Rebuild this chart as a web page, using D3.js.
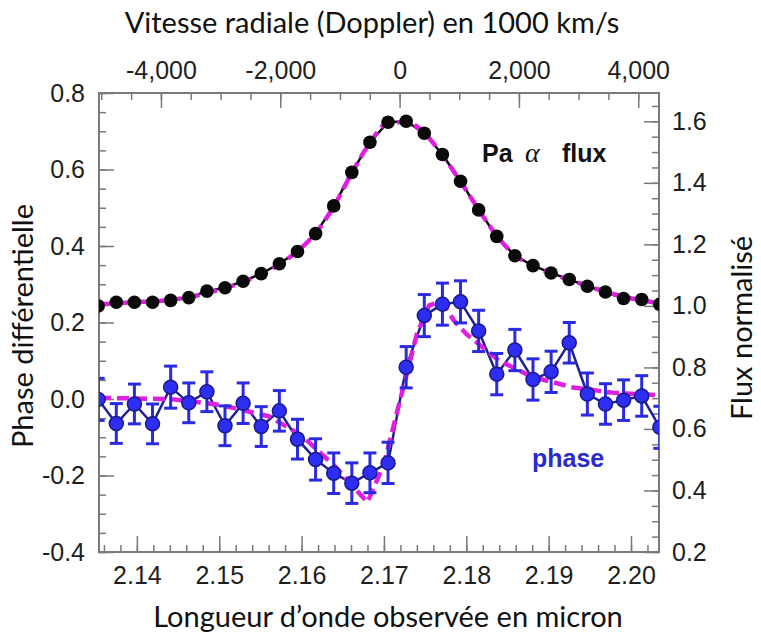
<!DOCTYPE html>
<html>
<head>
<meta charset="utf-8">
<script src="https://cdn.jsdelivr.net/npm/d3@7"></script>
<style>
  body { margin: 0; background: #fff; }
  svg { display: block; }
  .axis path { display: none; }
  .axis line { stroke: #7a7a7a; stroke-width: 1.5; }
  .axis text { font-family: "Liberation Sans", Arial, sans-serif; font-size: 25px; fill: #1e1e1e; }
  .lbl { font-family: Lato, "Open Sans", sans-serif; font-size: 29px; fill: #111; }
</style>
</head>
<body>
<svg id="chart" width="761" height="641"></svg>
<script>
// wavelength of each spectral channel (micron)
var lambda = [2.1353, 2.1375, 2.1397, 2.1419, 2.1441, 2.1463, 2.1485, 2.1507, 2.1529, 2.1551,
              2.1573, 2.1595, 2.1617, 2.1639, 2.1661, 2.1683, 2.1705, 2.1727, 2.1749, 2.1771,
              2.1793, 2.1815, 2.1837, 2.1859, 2.1881, 2.1903, 2.1925, 2.1947, 2.1969, 2.1991,
              2.2013, 2.2035];

// Pa alpha normalised flux (right axis)
var flux = [1.000, 1.012, 1.012, 1.012, 1.018, 1.027, 1.048, 1.059, 1.080, 1.105,
            1.137, 1.177, 1.235, 1.325, 1.434, 1.532, 1.597, 1.600, 1.561, 1.492,
            1.405, 1.312, 1.226, 1.163, 1.131, 1.107, 1.086, 1.064, 1.045, 1.024,
            1.021, 1.005];
var fluxErr = [0.006, 0.006, 0.006, 0.006, 0.006, 0.006, 0.006, 0.006, 0.006, 0.006,
               0.006, 0.007, 0.008, 0.010, 0.012, 0.013, 0.012, 0.012, 0.011, 0.010,
               0.009, 0.008, 0.007, 0.006, 0.006, 0.006, 0.006, 0.006, 0.006, 0.006,
               0.006, 0.006];
var fluxFit = [1.005, 1.008, 1.012, 1.015, 1.020, 1.028, 1.042, 1.058, 1.078, 1.103,
               1.135, 1.178, 1.236, 1.323, 1.432, 1.530, 1.595, 1.598, 1.562, 1.490,
               1.404, 1.313, 1.228, 1.165, 1.130, 1.106, 1.085, 1.065, 1.046, 1.030,
               1.018, 1.008];

// differential phase (left axis)
var phase = [-0.001, -0.064, -0.013, -0.065, 0.031, -0.010, 0.019, -0.070, -0.011, -0.072,
             -0.031, -0.105, -0.158, -0.194, -0.220, -0.193, -0.167, 0.083, 0.218, 0.248,
             0.254, 0.178, 0.065, 0.128, 0.051, 0.071, 0.147, 0.013, -0.013, -0.003,
             0.008, -0.074];
var phaseErr = [0.055, 0.052, 0.052, 0.052, 0.055, 0.052, 0.052, 0.052, 0.053, 0.052,
                0.053, 0.052, 0.054, 0.053, 0.053, 0.052, 0.054, 0.054, 0.055, 0.055,
                0.055, 0.054, 0.054, 0.054, 0.054, 0.054, 0.053, 0.055, 0.053, 0.053,
                0.053, 0.055];

// model curve for the phase
var fitLambda = [2.1354, 2.1440, 2.1500, 2.1560, 2.1600, 2.1640, 2.1680, 2.1700, 2.1720, 2.1740,
                 2.1755, 2.1770, 2.1785, 2.1800, 2.1840, 2.1880, 2.1930, 2.1980, 2.2035];
var phaseFit = [0.003, 0.000, -0.015, -0.045, -0.095, -0.175, -0.270, -0.170, 0.000, 0.170,
                0.245, 0.255, 0.205, 0.170, 0.100, 0.058, 0.030, 0.016, 0.010];

// axis ticks
var xTicks = [2.14, 2.15, 2.16, 2.17, 2.18, 2.19, 2.20];
var velTicks = [-4000, -2000, 0, 2000, 4000];
var phaseTicks = [-0.4, -0.2, 0.0, 0.2, 0.4, 0.6, 0.8];
var fluxTicks = [0.2, 0.4, 0.6, 0.8, 1.0, 1.2, 1.4, 1.6];

var lambda0 = 2.1719;   // line centre, zero velocity
var cLight = 299792;

var svg = d3.select("#chart");
var margin = {top: 93, right: 102, bottom: 89, left: 99};
var W = 761 - margin.left - margin.right,
    H = 641 - margin.top - margin.bottom;

var g = svg.append("g").attr("transform", "translate(" + margin.left + "," + margin.top + ")");

var x = d3.scaleLinear().domain([2.1354, 2.2034]).range([0, W]);
var yL = d3.scaleLinear().domain([-0.4, 0.8]).range([H, 0]);
var yR = d3.scaleLinear().domain([0.2, 1.692]).range([H, 0]);
var vel = d3.scaleLinear()
  .domain(x.domain().map(function(l) { return cLight * (l - lambda0) / lambda0; }))
  .range([0, W]);

// plain hyphen for negatives, like the original
function fmt(spec) {
  var f = d3.format(spec);
  return function(d) { return f(d).replace("\u2212", "-"); };
}

function minorRange(a, b, step) {
  var out = [];
  for (var v = a; v <= b + 1e-9; v += step) out.push(+v.toFixed(4));
  return out;
}

// minor ticks (no labels)
g.append("g").attr("class", "axis").attr("transform", "translate(0," + H + ")")
  .call(d3.axisBottom(x).tickValues(minorRange(2.136, 2.202, 0.002)).tickSize(-7).tickFormat(""));
g.append("g").attr("class", "axis")
  .call(d3.axisTop(vel).tickValues(minorRange(-5000, 4000, 500)).tickSize(-7).tickFormat(""));
g.append("g").attr("class", "axis")
  .call(d3.axisLeft(yL).tickValues(minorRange(-0.4, 0.8, 0.05)).tickSize(-7).tickFormat(""));
g.append("g").attr("class", "axis").attr("transform", "translate(" + W + ",0)")
  .call(d3.axisRight(yR).tickValues(minorRange(0.2, 1.65, 0.05)).tickSize(-7).tickFormat(""));

// major ticks with labels
g.append("g").attr("class", "axis").attr("transform", "translate(0," + H + ")")
  .call(d3.axisBottom(x).tickValues(xTicks).tickSize(-16).tickPadding(14).tickFormat(fmt(".2f")));
g.append("g").attr("class", "axis")
  .call(d3.axisTop(vel).tickValues(velTicks).tickSize(-15).tickPadding(14).tickFormat(fmt(",")));
g.append("g").attr("class", "axis")
  .call(d3.axisLeft(yL).tickValues(phaseTicks).tickSize(-15).tickPadding(14).tickFormat(fmt(".1f")));
g.append("g").attr("class", "axis").attr("transform", "translate(" + W + ",0)")
  .call(d3.axisRight(yR).tickValues(fluxTicks).tickSize(-15).tickPadding(13).tickFormat(fmt(".1f")));

// frame
g.append("rect").attr("width", W).attr("height", H)
  .attr("fill", "none").attr("stroke", "#7a7a7a").attr("stroke-width", 2);

g.append("clipPath").attr("id", "clip").append("rect").attr("width", W).attr("height", H);
var plot = g.append("g").attr("clip-path", "url(#clip)");

var fluxData = lambda.map(function(l, i) { return {l: l, v: flux[i], e: fluxErr[i], f: fluxFit[i]}; });
var phaseData = lambda.map(function(l, i) { return {l: l, v: phase[i], e: phaseErr[i]}; });
var fitData = fitLambda.map(function(l, i) { return {l: l, v: phaseFit[i]}; });

// data lines
plot.append("path").datum(fluxData).attr("fill", "none").attr("stroke", "#111").attr("stroke-width", 2.5)
  .attr("d", d3.line().x(function(d) { return x(d.l); }).y(function(d) { return yR(d.v); }));
plot.append("path").datum(phaseData).attr("fill", "none").attr("stroke", "#1f1f96").attr("stroke-width", 2.5)
  .attr("d", d3.line().x(function(d) { return x(d.l); }).y(function(d) { return yL(d.v); }));

// model curves (magenta dashed)
plot.append("path").datum(fluxData).attr("fill", "none").attr("stroke", "#e01ee0").attr("stroke-width", 4.5)
  .attr("stroke-dasharray", "12,6")
  .attr("d", d3.line().curve(d3.curveMonotoneX).x(function(d) { return x(d.l); }).y(function(d) { return yR(d.f); }));
plot.append("path").datum(fitData).attr("fill", "none").attr("stroke", "#e01ee0").attr("stroke-width", 4.5)
  .attr("stroke-dasharray", "12,6")
  .attr("d", d3.line().x(function(d) { return x(d.l); }).y(function(d) { return yL(d.v); }));

// error bars
function errBars(data, y, color, cap, w) {
  var eb = plot.append("g").attr("stroke", color).attr("stroke-width", w);
  eb.selectAll("line.v").data(data).enter().append("line")
    .attr("x1", function(d) { return x(d.l); }).attr("x2", function(d) { return x(d.l); })
    .attr("y1", function(d) { return y(d.v - d.e); }).attr("y2", function(d) { return y(d.v + d.e); });
  [-1, 1].forEach(function(s) {
    eb.selectAll("line.c" + s).data(data).enter().append("line")
      .attr("x1", function(d) { return x(d.l) - cap; }).attr("x2", function(d) { return x(d.l) + cap; })
      .attr("y1", function(d) { return y(d.v + s * d.e); }).attr("y2", function(d) { return y(d.v + s * d.e); });
  });
}
errBars(fluxData, yR, "#111", 5, 2.5);
errBars(phaseData, yL, "#2a2ae0", 6.5, 3);

// markers
plot.selectAll("circle.flux").data(fluxData).enter().append("circle")
  .attr("cx", function(d) { return x(d.l); }).attr("cy", function(d) { return yR(d.v); })
  .attr("r", 6.8).attr("fill", "#0a0a0a");
plot.selectAll("circle.phase").data(phaseData).enter().append("circle")
  .attr("cx", function(d) { return x(d.l); }).attr("cy", function(d) { return yL(d.v); })
  .attr("r", 7).attr("fill", "#2e2ef2").attr("stroke", "#1a1a8a").attr("stroke-width", 1.5);

// annotations
var ann = svg.append("g").attr("font-family", "'Liberation Sans', Arial, sans-serif")
  .attr("font-size", 25).attr("font-weight", "bold");
ann.append("text").attr("x", 482).attr("y", 162).attr("fill", "#111").text("Pa");
ann.append("text").attr("x", 525).attr("y", 162).attr("fill", "#111")
  .attr("font-family", "'Liberation Serif', 'DejaVu Serif', serif").attr("font-style", "italic")
  .attr("font-weight", "normal").attr("font-size", 28).text("α");
ann.append("text").attr("x", 562).attr("y", 162).attr("fill", "#111").text("flux");
ann.append("text").attr("x", 532).attr("y", 467).attr("fill", "#2b2bcc").text("phase");

// axis titles
svg.append("text").attr("class", "lbl").attr("x", 372).attr("y", 33).attr("text-anchor", "middle")
  .text("Vitesse radiale (Doppler) en 1000 km/s");
svg.append("text").attr("class", "lbl").attr("x", 388).attr("y", 627).attr("text-anchor", "middle")
  .text("Longueur d’onde observée en micron");
svg.append("text").attr("class", "lbl").attr("text-anchor", "middle")
  .attr("transform", "translate(33,326) rotate(-90)").text("Phase différentielle");
svg.append("text").attr("class", "lbl").attr("text-anchor", "middle")
  .attr("transform", "translate(752,328) rotate(-90)").text("Flux normalisé");
</script>
</body>
</html>
